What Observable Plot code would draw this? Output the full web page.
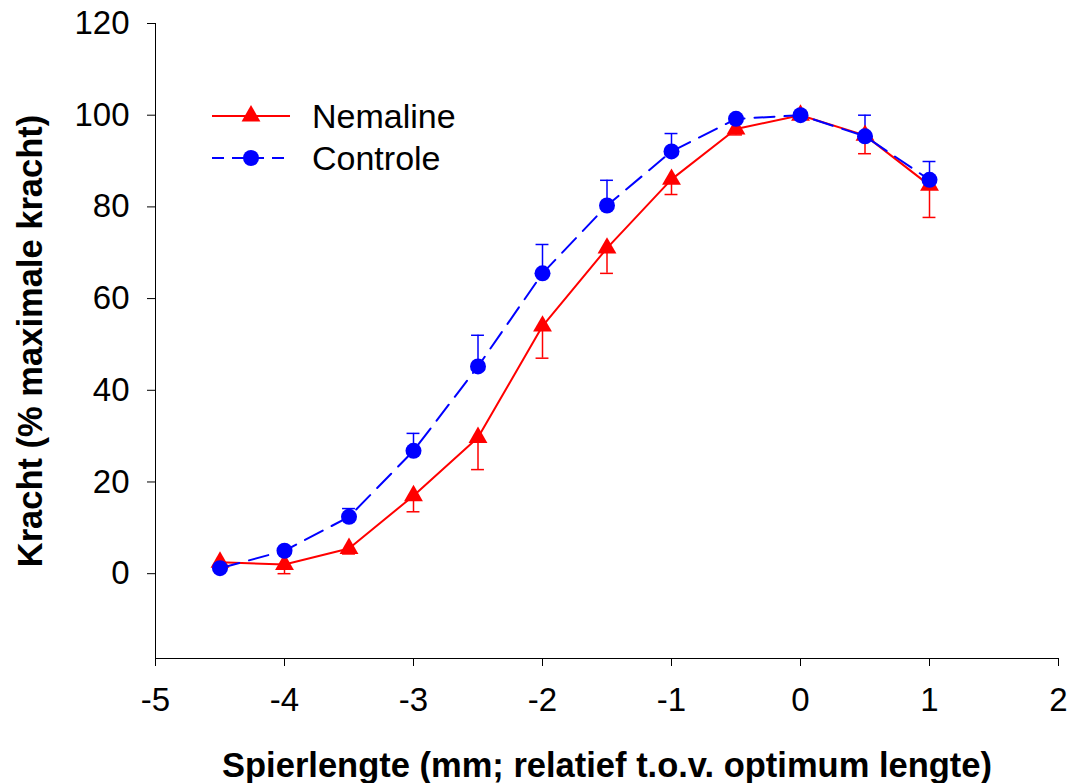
<!DOCTYPE html>
<html>
<head>
<meta charset="utf-8">
<script src="https://cdn.jsdelivr.net/npm/d3@7"></script>
<script src="https://cdn.jsdelivr.net/npm/@observablehq/plot@0.6"></script>
<style>
  html, body { margin: 0; padding: 0; background: #fff; }
  #chart { position: relative; width: 1072px; height: 783px; }
</style>
</head>
<body>
<div id="chart"></div>
<script>
// Data
const lengths = [-4.5, -4, -3.5, -3, -2.5, -2, -1.5, -1, -0.5, 0, 0.5, 1];
const nemalineMean = [2.5, 2.0, 5.5, 17.0, 29.7, 54.0, 71.0, 86.0, 97.0, 100, 95.6, 84.7];
const nemalineErr  = [0, 2.0, 1.2, 3.5, 7.0, 7.0, 5.5, 3.3, 1.3, 0, 4.0, 7.0];
const controleMean = [1.2, 5.0, 12.4, 26.8, 45.2, 65.5, 80.3, 92.1, 99.2, 100, 95.4, 85.9];
const controleErr  = [0, 0, 1.8, 3.8, 6.8, 6.3, 5.5, 3.9, 0, 0, 4.6, 4.0];
const seriesNames = ["Nemaline", "Controle"];
const xTicks = [-5, -4, -3, -2, -1, 0, 1, 2];
const yTicks = [0, 20, 40, 60, 80, 100, 120];
const xTitle = "Spierlengte (mm; relatief t.o.v. optimum lengte)";
const yTitle = "Kracht (% maximale kracht)";

const nem = lengths.map((x, i) => ({x, y: nemalineMean[i], e: nemalineErr[i]}));
const con = lengths.map((x, i) => ({x, y: controleMean[i], e: controleErr[i]}));
const capHalf = 0.05;
const RED = "#FF0000", BLUE = "#0000FF";
const font = "Arial, 'Liberation Sans', sans-serif";

const chart = Plot.plot({
  width: 1072,
  height: 783,
  marginLeft: 155,
  marginRight: 14,
  marginTop: 23,
  marginBottom: 125,
  style: {fontFamily: font, background: "#fff", color: "#000"},
  x: {domain: [-5, 2], ticks: xTicks},
  y: {domain: [-18.5, 120], ticks: yTicks},
  marks: [
    Plot.axisX({ticks: xTicks, tickSize: 8, tickPadding: 21, fontSize: 33, label: null, stroke: "#000", tickFormat: d => String(d)}),
    Plot.axisY({ticks: yTicks, tickSize: 8, tickPadding: 18, fontSize: 33, label: null, stroke: "#000", tickFormat: d => String(d)}),
    Plot.ruleX([-5], {stroke: "#000", strokeWidth: 1}),
    Plot.ruleY([-18.5], {stroke: "#000", strokeWidth: 1}),
    // Nemaline error bars (downward)
    Plot.ruleX(nem.filter(d => d.e > 0), {x: "x", y1: "y", y2: d => d.y - d.e, stroke: RED, strokeWidth: 1.5}),
    Plot.ruleY(nem.filter(d => d.e > 0), {y: d => d.y - d.e, x1: d => d.x - capHalf, x2: d => d.x + capHalf, stroke: RED, strokeWidth: 1.5}),
    // Controle error bars (upward)
    Plot.ruleX(con.filter(d => d.e > 0), {x: "x", y1: "y", y2: d => d.y + d.e, stroke: BLUE, strokeWidth: 1.5}),
    Plot.ruleY(con.filter(d => d.e > 0), {y: d => d.y + d.e, x1: d => d.x - capHalf, x2: d => d.x + capHalf, stroke: BLUE, strokeWidth: 1.5}),
    // Lines
    Plot.line(nem, {x: "x", y: "y", stroke: RED, strokeWidth: 2}),
    Plot.dot(nem, {x: "x", y: "y", symbol: "triangle", r: 7, fill: RED, stroke: null}),
    Plot.line(con, {x: "x", y: "y", stroke: BLUE, strokeWidth: 2, strokeDasharray: "20,10"}),
    Plot.dot(con, {x: "x", y: "y", symbol: "circle", r: 8, fill: BLUE, stroke: null}),
    // Axis titles
    Plot.text([xTitle], {frameAnchor: "bottom", dy: 107, text: d => d, fontSize: 34.5, fontWeight: "bold", textAnchor: "middle", lineAnchor: "middle", fill: "#000"}),
    Plot.text([yTitle], {frameAnchor: "left", dx: -125, rotate: -90, text: d => d, fontSize: 34.5, fontWeight: "bold", textAnchor: "middle", lineAnchor: "middle", fill: "#000"})
  ]
});

document.getElementById("chart").appendChild(chart);

// Legend drawn inside the plot area
const svg = d3.select(chart);
const lg = svg.append("g").attr("font-family", font).attr("text-anchor", "start");
const legendItems = [
  {name: seriesNames[0], color: RED, dash: null, sym: d3.symbolTriangle, size: Math.PI * 7 * 7},
  {name: seriesNames[1], color: BLUE, dash: "12,8", sym: d3.symbolCircle, size: Math.PI * 8 * 8}
];
legendItems.forEach((it, i) => {
  const yy = 116 + i * 42;
  const g = lg.append("g").attr("transform", `translate(0,${yy})`);
  g.append("line").attr("x1", 212).attr("x2", 290).attr("y1", 0).attr("y2", 0)
    .attr("stroke", it.color).attr("stroke-width", 2)
    .attr("stroke-dasharray", it.dash);
  g.append("path").attr("d", d3.symbol(it.sym, it.size)()).attr("transform", "translate(251,0)")
    .attr("fill", it.color);
  g.append("text").attr("x", 312).attr("y", 0).attr("dy", "0.35em")
    .attr("text-anchor", "start")
    .attr("font-size", 34).attr("fill", "#000").text(it.name);
});
</script>
</body>
</html>
